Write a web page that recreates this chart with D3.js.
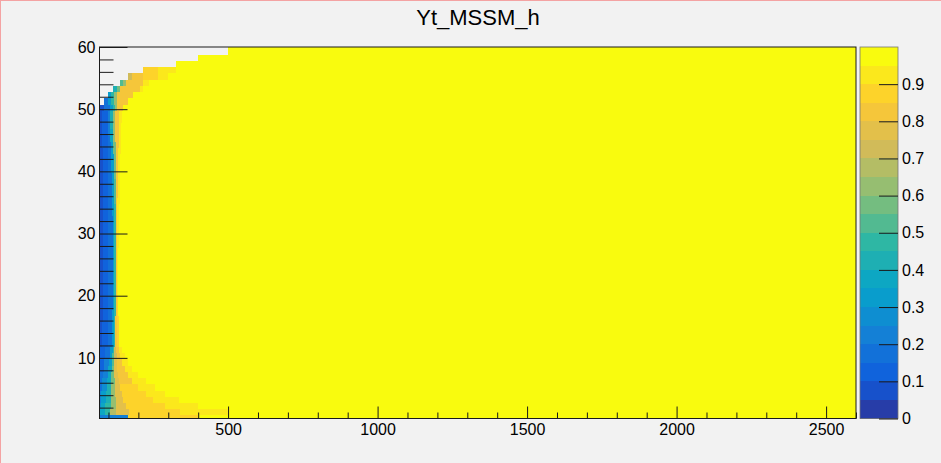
<!DOCTYPE html>
<html>
<head>
<meta charset="utf-8">
<script src="https://cdn.jsdelivr.net/npm/d3@7"></script>
<style>
  html, body { margin: 0; padding: 0; background: #f2f2f2; }
  svg { display: block; font-family: "Liberation Sans", Arial, Helvetica, sans-serif; }
</style>
</head>
<body>
<svg id="chart" width="941" height="463"></svg>
<script>
// ---- data -------------------------------------------------------------
const chartTitle = "Yt_MSSM_h";
const xRange = [70, 2600];
const yRange = [0.25, 60];
const zRange = [0, 1];
const nContours = 20;

const xMajorTicks = [500, 1000, 1500, 2000, 2500];
const xMinorTicks = [100, 200, 300, 400, 600, 700, 800, 900, 1100, 1200, 1300, 1400,
                     1600, 1700, 1800, 1900, 2100, 2200, 2300, 2400, 2600];
const yMajorTicks = [10, 20, 30, 40, 50, 60];
const yMinorTicks = [2, 4, 6, 8, 12, 14, 16, 18, 22, 24, 26, 28, 32, 34, 36, 38,
                     42, 44, 46, 48, 52, 54, 56, 58];
const zTicks = [0, 0.1, 0.2, 0.3, 0.4, 0.5, 0.6, 0.7, 0.8, 0.9];
const zTickLabels = ["0", "0.1", "0.2", "0.3", "0.4", "0.5", "0.6", "0.7", "0.8", "0.9"];

// lower y edge of each row of cells (bottom to top), last row ends at yRange[1]
const rowLow = [0.25, 0.75, 1.75, 2.75, 3.75, 4.75, 5.75, 6.75, 7.75, 8.75, 9.75,
  10.75, 11.75, 12.75, 13.75, 14.75, 15.75, 16.75, 17.75, 18.75, 19.75,
  20.75, 21.75, 22.75, 23.75, 24.75, 25.75, 26.75, 27.75, 28.75, 29.75,
  30.75, 31.75, 32.75, 33.75, 34.75, 35.75, 36.75, 37.75, 38.75, 39.75,
  40.75, 41.75, 42.75, 43.75, 44.75, 45.75, 46.75, 47.75, 48.75, 49.75,
  50.75, 51.75, 52.75, 53.75, 54.75, 55.75, 56.75, 57.75, 58.75, 59.75];

// x edges of the runs of cells in each row, and the cell content of each run
const rowEdges = [
  [70, 165, 400, 2600],
  [70, 73, 88, 106, 126, 170, 340, 500, 2600],
  [70, 74, 90, 107, 125, 160, 290, 400, 2600],
  [70, 75, 92, 108, 124, 150, 250, 335, 2600],
  [70, 76, 93, 108, 123, 145, 225, 290, 2600],
  [70, 78, 95, 109, 122, 140, 200, 255, 2600],
  [70, 80, 96, 110, 121, 135, 180, 225, 2600],
  [70, 82, 98, 110, 120, 132, 165, 200, 2600],
  [70, 84, 100, 111, 120, 130, 155, 180, 2600],
  [70, 86, 102, 112, 120, 128, 145, 165, 2600],
  [70, 88, 104, 113, 120, 127, 140, 155, 2600],
  [70, 90, 105, 114, 120, 126, 135, 145, 2600],
  [70, 80, 98, 112, 118, 123, 128, 136, 2600],
  [70, 80, 98, 112, 118, 123, 128, 135, 2600],
  [70, 80, 99, 112, 118, 123, 128, 135, 2600],
  [70, 80, 99, 113, 118, 123, 128, 134, 2600],
  [70, 81, 99, 113, 119, 123, 128, 134, 2600],
  [70, 81, 100, 113, 119, 124, 128, 133, 2600],
  [70, 81, 100, 114, 119, 124, 128, 133, 2600],
  [70, 82, 100, 114, 119, 124, 128, 133, 2600],
  [70, 82, 100, 115, 120, 124, 128, 132, 2600],
  [70, 82, 100, 115, 120, 124, 128, 132, 2600],
  [70, 82, 100, 115, 120, 124, 128, 132, 2600],
  [70, 82, 100, 115, 120, 124, 128, 132, 2600],
  [70, 82, 100, 115, 120, 124, 128, 132, 2600],
  [70, 82, 100, 115, 120, 124, 128, 133, 2600],
  [70, 82, 100, 115, 120, 124, 128, 133, 2600],
  [70, 82, 100, 115, 120, 124, 128, 133, 2600],
  [70, 82, 100, 115, 120, 125, 129, 134, 2600],
  [70, 82, 100, 115, 120, 125, 129, 134, 2600],
  [70, 82, 100, 114, 120, 125, 129, 134, 2600],
  [70, 82, 100, 114, 120, 125, 130, 135, 2600],
  [70, 82, 100, 114, 120, 125, 130, 135, 2600],
  [70, 82, 100, 113, 119, 125, 130, 136, 2600],
  [70, 82, 100, 113, 119, 125, 130, 136, 2600],
  [70, 82, 100, 112, 118, 124, 130, 137, 2600],
  [70, 82, 100, 112, 118, 124, 131, 137, 2600],
  [70, 82, 100, 112, 118, 124, 131, 138, 2600],
  [70, 82, 100, 111, 118, 124, 131, 138, 2600],
  [70, 82, 100, 111, 118, 124, 132, 139, 2600],
  [70, 82, 100, 110, 117, 124, 132, 139, 2600],
  [70, 81, 100, 110, 117, 124, 132, 140, 2600],
  [70, 81, 100, 109, 117, 124, 133, 140, 2600],
  [70, 81, 100, 108, 116, 124, 133, 141, 2600],
  [70, 80, 100, 107, 116, 124, 134, 141, 2600],
  [70, 80, 100, 106, 115, 123, 134, 142, 2600],
  [70, 80, 100, 105, 115, 123, 134, 142, 2600],
  [70, 80, 100, 105, 115, 123, 135, 143, 2600],
  [70, 80, 100, 105, 115, 123, 135, 144, 2600],
  [70, 80, 100, 105, 115, 123, 136, 145, 2600],
  [72, 85, 105, 115, 122, 130, 150, 2600],
  [85, 100, 110, 120, 128, 166, 2600],
  [100, 108, 118, 128, 183, 2600],
  [115, 128, 140, 205, 215, 2600],
  [140, 150, 160, 215, 235, 2600],
  [165, 180, 215, 265, 300, 2600],
  [215, 265, 325, 2600],
  [325, 2600],
  [400, 2600],
  [500, 2600],
  [500, 2600]
];

const rowValues = [
  [0.22, 0.88, 0.98],
  [0.28, 0.38, 0.48, 0.65, 0.79, 0.86, 0.92, 0.98],
  [0.25, 0.35, 0.46, 0.64, 0.79, 0.85, 0.91, 0.98],
  [0.22, 0.32, 0.44, 0.63, 0.78, 0.85, 0.91, 0.98],
  [0.20, 0.30, 0.42, 0.62, 0.78, 0.85, 0.91, 0.98],
  [0.18, 0.27, 0.40, 0.60, 0.78, 0.85, 0.91, 0.98],
  [0.17, 0.25, 0.38, 0.58, 0.77, 0.84, 0.91, 0.98],
  [0.15, 0.23, 0.36, 0.56, 0.77, 0.84, 0.91, 0.98],
  [0.14, 0.22, 0.35, 0.55, 0.76, 0.84, 0.91, 0.98],
  [0.13, 0.20, 0.33, 0.52, 0.75, 0.84, 0.91, 0.98],
  [0.12, 0.18, 0.32, 0.50, 0.74, 0.84, 0.91, 0.98],
  [0.12, 0.18, 0.30, 0.48, 0.72, 0.84, 0.91, 0.98],
  [0.08, 0.13, 0.18, 0.30, 0.45, 0.80, 0.88, 0.98],
  [0.08, 0.13, 0.18, 0.30, 0.45, 0.80, 0.88, 0.98],
  [0.08, 0.13, 0.18, 0.30, 0.45, 0.80, 0.88, 0.98],
  [0.08, 0.13, 0.18, 0.30, 0.45, 0.80, 0.88, 0.98],
  [0.08, 0.13, 0.18, 0.30, 0.45, 0.80, 0.89, 0.98],
  [0.08, 0.13, 0.18, 0.30, 0.45, 0.80, 0.89, 0.98],
  [0.08, 0.13, 0.18, 0.30, 0.45, 0.80, 0.89, 0.98],
  [0.08, 0.13, 0.18, 0.30, 0.45, 0.80, 0.89, 0.98],
  [0.08, 0.13, 0.18, 0.30, 0.45, 0.80, 0.90, 0.98],
  [0.08, 0.13, 0.18, 0.30, 0.45, 0.80, 0.90, 0.98],
  [0.08, 0.13, 0.18, 0.30, 0.45, 0.80, 0.90, 0.98],
  [0.08, 0.13, 0.18, 0.30, 0.45, 0.80, 0.90, 0.98],
  [0.08, 0.13, 0.18, 0.30, 0.45, 0.80, 0.90, 0.98],
  [0.08, 0.13, 0.18, 0.30, 0.45, 0.80, 0.90, 0.98],
  [0.08, 0.13, 0.18, 0.30, 0.45, 0.80, 0.90, 0.98],
  [0.08, 0.13, 0.18, 0.30, 0.45, 0.80, 0.90, 0.98],
  [0.08, 0.13, 0.18, 0.30, 0.46, 0.80, 0.90, 0.98],
  [0.08, 0.13, 0.18, 0.30, 0.46, 0.80, 0.90, 0.98],
  [0.08, 0.13, 0.18, 0.30, 0.46, 0.80, 0.90, 0.98],
  [0.08, 0.13, 0.18, 0.30, 0.47, 0.81, 0.90, 0.98],
  [0.08, 0.13, 0.18, 0.30, 0.47, 0.81, 0.90, 0.98],
  [0.08, 0.13, 0.18, 0.30, 0.48, 0.82, 0.91, 0.98],
  [0.08, 0.13, 0.18, 0.30, 0.48, 0.82, 0.91, 0.98],
  [0.08, 0.13, 0.18, 0.30, 0.50, 0.82, 0.91, 0.98],
  [0.08, 0.13, 0.18, 0.30, 0.50, 0.82, 0.91, 0.98],
  [0.08, 0.13, 0.18, 0.30, 0.52, 0.82, 0.91, 0.98],
  [0.08, 0.13, 0.18, 0.31, 0.52, 0.82, 0.91, 0.98],
  [0.08, 0.13, 0.18, 0.31, 0.55, 0.82, 0.91, 0.98],
  [0.08, 0.13, 0.18, 0.32, 0.55, 0.83, 0.91, 0.98],
  [0.08, 0.13, 0.18, 0.32, 0.56, 0.83, 0.91, 0.98],
  [0.08, 0.13, 0.18, 0.33, 0.57, 0.83, 0.91, 0.98],
  [0.08, 0.13, 0.18, 0.33, 0.58, 0.83, 0.91, 0.98],
  [0.08, 0.13, 0.18, 0.34, 0.59, 0.83, 0.91, 0.98],
  [0.08, 0.13, 0.19, 0.36, 0.60, 0.84, 0.91, 0.98],
  [0.08, 0.13, 0.20, 0.38, 0.61, 0.84, 0.91, 0.98],
  [0.08, 0.13, 0.21, 0.40, 0.62, 0.84, 0.91, 0.98],
  [0.08, 0.13, 0.22, 0.42, 0.63, 0.84, 0.91, 0.98],
  [0.08, 0.13, 0.23, 0.43, 0.64, 0.84, 0.91, 0.98],
  [0.08, 0.18, 0.30, 0.45, 0.60, 0.84, 0.98],
  [0.18, 0.32, 0.45, 0.60, 0.84, 0.98],
  [0.30, 0.45, 0.60, 0.84, 0.98],
  [0.42, 0.58, 0.84, 0.90, 0.98],
  [0.50, 0.63, 0.84, 0.90, 0.98],
  [0.70, 0.84, 0.88, 0.93, 0.98],
  [0.86, 0.92, 0.98],
  [0.98],
  [0.98],
  [0.98],
  [0.98]
];

// ---- palette (ROOT "bird" gradient, 255 colours, 20 contour levels) ----
const birdStops = [0.0, 0.125, 0.25, 0.375, 0.5, 0.625, 0.75, 0.875, 1.0];
const birdRed   = [0.2082, 0.0592, 0.0780, 0.0232, 0.1802, 0.5301, 0.8186, 0.9956, 0.9764];
const birdGreen = [0.1664, 0.3599, 0.5041, 0.6419, 0.7178, 0.7492, 0.7328, 0.7862, 0.9832];
const birdBlue  = [0.5293, 0.8684, 0.8385, 0.7914, 0.6425, 0.4662, 0.3499, 0.1968, 0.0539];

const nPalette = 255;
const interpChannel = (arr, t) => d3.scaleLinear().domain(birdStops).range(arr)(t);
const palette = d3.range(nPalette).map(i => {
  const t = i / (nPalette - 1);
  return d3.rgb(255 * interpChannel(birdRed, t), 255 * interpChannel(birdGreen, t),
                255 * interpChannel(birdBlue, t)).formatHex();
});
const levelColor = lvl => palette[Math.floor((lvl + 0.99) * nPalette / nContours)];
const valueColor = v => {
  const lvl = Math.max(0, Math.min(nContours - 1,
    Math.floor((v - zRange[0]) / (zRange[1] - zRange[0]) * nContours)));
  return levelColor(lvl);
};

// ---- layout ------------------------------------------------------------
const W = 941, H = 463;
const frame = { left: 99.5, right: 856, top: 47, bottom: 418.5 };
const bar = { left: 860, right: 898 };

const svg = d3.select("#chart");
svg.append("rect").attr("width", W).attr("height", H).attr("fill", "#f2f2f2");
// thin canvas edge
svg.append("line").attr("x1", 0).attr("x2", W).attr("y1", 0.5).attr("y2", 0.5)
  .attr("stroke", "#f4a3a3").attr("stroke-width", 1);
svg.append("line").attr("x1", 0.5).attr("x2", 0.5).attr("y1", 0).attr("y2", H)
  .attr("stroke", "#f4a3a3").attr("stroke-width", 1);

const x = d3.scaleLinear().domain(xRange).range([frame.left, frame.right]);
const y = d3.scaleLinear().domain(yRange).range([frame.bottom, frame.top]);
const z = d3.scaleLinear().domain(zRange).range([frame.bottom, frame.top]);

// ---- cells -------------------------------------------------------------
const cells = [];
rowEdges.forEach((edges, r) => {
  const y0 = rowLow[r];
  const y1 = r + 1 < rowLow.length ? rowLow[r + 1] : yRange[1];
  rowValues[r].forEach((v, i) => {
    cells.push({ x0: edges[i], x1: edges[i + 1], y0, y1, v });
  });
});

svg.append("g").attr("shape-rendering", "crispEdges")
  .selectAll("rect").data(cells).join("rect")
  .attr("x", d => x(d.x0))
  .attr("width", d => x(d.x1) - x(d.x0))
  .attr("y", d => y(d.y1))
  .attr("height", d => y(d.y0) - y(d.y1))
  .attr("fill", d => valueColor(d.v));

// ---- frame and axes ----------------------------------------------------
svg.append("rect")
  .attr("x", frame.left).attr("y", frame.top)
  .attr("width", frame.right - frame.left).attr("height", frame.bottom - frame.top)
  .attr("fill", "none").attr("stroke", "#1a1a1a").attr("stroke-width", 1);

const styleAxis = g => {
  g.select(".domain").remove();
  g.selectAll(".tick line").attr("stroke", "#1a1a1a");
  g.selectAll(".tick text").attr("fill", "#000").attr("font-size", 16)
    .attr("font-family", "'Liberation Sans', Arial, sans-serif");
};

svg.append("g").attr("transform", `translate(0,${frame.bottom})`)
  .call(d3.axisBottom(x).tickValues(xMajorTicks).tickSize(-12).tickPadding(5)
    .tickFormat(d3.format("d")))
  .call(styleAxis);
svg.append("g").attr("transform", `translate(0,${frame.bottom})`)
  .call(d3.axisBottom(x).tickValues(xMinorTicks).tickSize(-6).tickFormat(""))
  .call(styleAxis);

svg.append("g").attr("transform", `translate(${frame.left},0)`)
  .call(d3.axisLeft(y).tickValues(yMajorTicks).tickSize(-28).tickPadding(4)
    .tickFormat(d3.format("d")))
  .call(styleAxis);
svg.append("g").attr("transform", `translate(${frame.left},0)`)
  .call(d3.axisLeft(y).tickValues(yMinorTicks).tickSize(-14).tickFormat(""))
  .call(styleAxis);

// ---- colour scale ------------------------------------------------------
const levels = d3.range(nContours);
svg.append("g").attr("shape-rendering", "crispEdges")
  .selectAll("rect").data(levels).join("rect")
  .attr("x", bar.left)
  .attr("width", bar.right - bar.left)
  .attr("y", l => z(zRange[0] + (l + 1) * (zRange[1] - zRange[0]) / nContours))
  .attr("height", l => z(zRange[0] + l * (zRange[1] - zRange[0]) / nContours)
                     - z(zRange[0] + (l + 1) * (zRange[1] - zRange[0]) / nContours))
  .attr("fill", l => levelColor(l));

svg.append("rect")
  .attr("x", bar.left).attr("y", frame.top)
  .attr("width", bar.right - bar.left).attr("height", frame.bottom - frame.top)
  .attr("fill", "none").attr("stroke", "#777").attr("stroke-width", 0.8);

svg.append("g").attr("transform", `translate(${bar.right},0)`)
  .call(d3.axisRight(z).tickValues(zTicks).tickSize(-19).tickPadding(4)
    .tickFormat((d, i) => zTickLabels[i]))
  .call(styleAxis);

// ---- title -------------------------------------------------------------
svg.append("text")
  .attr("x", 478).attr("y", 25)
  .attr("text-anchor", "middle")
  .attr("font-size", 22)
  .attr("fill", "#000")
  .text(chartTitle);
</script>
</body>
</html>
